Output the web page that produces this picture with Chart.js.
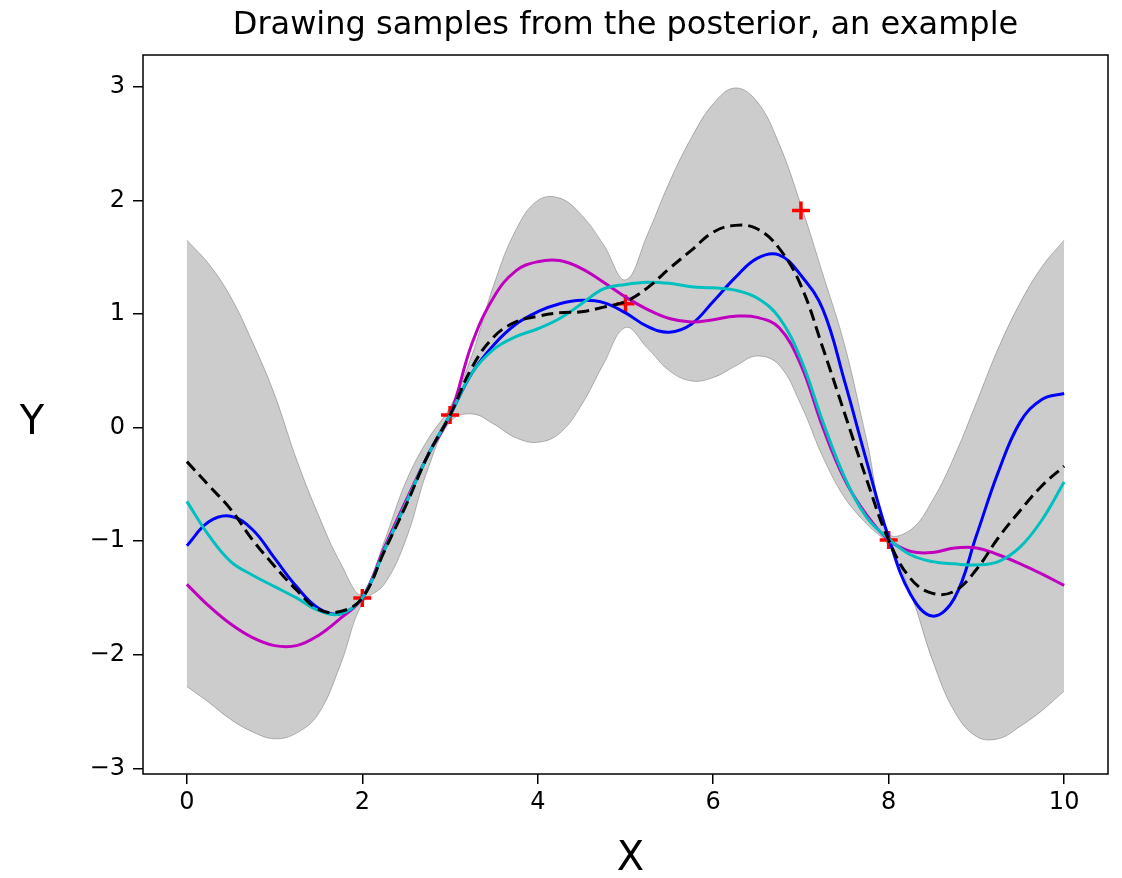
<!DOCTYPE html>
<html>
<head>
<meta charset="utf-8">
<script src="https://cdn.jsdelivr.net/npm/chart.js@4.4.0/dist/chart.umd.min.js"></script>
<style>
  html, body { margin: 0; padding: 0; background: #ffffff; }
  #wrap { width: 1122px; height: 878px; }
</style>
</head>
<body>
<div id="wrap"><canvas id="gpChart" width="1122" height="878"></canvas></div>
<script>
// Data ------------------------------------------------------------------------
var titleText = 'Drawing samples from the posterior, an example';
var xLabel = 'X';
var yLabel = 'Y';

var xs = [0, 0.25, 0.5, 0.75, 1, 1.25, 1.5, 1.75, 2, 2.25, 2.5, 2.75, 3, 3.25, 3.5, 3.75, 4, 4.25, 4.5, 4.75,
          5, 5.25, 5.5, 5.75, 6, 6.25, 6.5, 6.75, 7, 7.25, 7.5, 7.75, 8, 8.25, 8.5, 8.75, 9, 9.25, 9.5, 9.75, 10];

var bandUpper = [1.65, 1.44, 1.15, 0.75, 0.29, -0.28, -0.77, -1.19, -1.47, -1.00, -0.47, -0.10, 0.18, 0.64, 1.26, 1.74, 2.00, 2.02, 1.87, 1.61,
                 1.30, 1.70, 2.16, 2.55, 2.85, 2.99, 2.87, 2.50, 1.96, 1.35, 0.72, -0.11, -0.93, -0.90, -0.64, -0.25, 0.22, 0.70, 1.10, 1.42, 1.65];
var bandLower = [-2.28, -2.42, -2.57, -2.68, -2.74, -2.69, -2.52, -2.09, -1.55, -1.38, -0.98, -0.36, 0.05, 0.12, 0.03, -0.09, -0.13, -0.05, 0.20, 0.56,
                 0.88, 0.70, 0.50, 0.41, 0.44, 0.54, 0.63, 0.55, 0.20, -0.26, -0.62, -0.85, -1.04, -1.46, -2.05, -2.50, -2.72, -2.74, -2.63, -2.49, -2.32];

var meanY = [-0.30, -0.51, -0.72, -0.99, -1.22, -1.43, -1.60, -1.62, -1.50, -1.09, -0.68, -0.24, 0.11, 0.53, 0.80, 0.93, 0.98, 1.01, 1.02, 1.06,
             1.11, 1.23, 1.40, 1.56, 1.72, 1.78, 1.75, 1.58, 1.25, 0.70, 0.12, -0.46, -0.99, -1.33, -1.46, -1.44, -1.25, -0.97, -0.73, -0.51, -0.34];
var sampleBlue = [-1.04, -0.83, -0.78, -0.90, -1.15, -1.40, -1.59, -1.64, -1.50, -1.08, -0.66, -0.24, 0.11, 0.48, 0.73, 0.91, 1.02, 1.09, 1.12, 1.10,
                  1.01, 0.89, 0.84, 0.91, 1.11, 1.32, 1.49, 1.52, 1.34, 1.04, 0.40, -0.30, -0.97, -1.47, -1.66, -1.50, -0.95, -0.39, 0.05, 0.25, 0.30];
var sampleCyan = [-0.65, -0.95, -1.18, -1.30, -1.40, -1.50, -1.61, -1.64, -1.50, -1.08, -0.66, -0.24, 0.11, 0.48, 0.69, 0.80, 0.87, 0.96, 1.09, 1.22,
                  1.26, 1.28, 1.27, 1.24, 1.23, 1.21, 1.14, 0.97, 0.60, 0.05, -0.44, -0.79, -0.98, -1.12, -1.18, -1.20, -1.21, -1.18, -1.05, -0.81, -0.48];
var sampleMagenta = [-1.38, -1.57, -1.73, -1.85, -1.92, -1.92, -1.83, -1.68, -1.50, -1.06, -0.64, -0.24, 0.11, 0.74, 1.15, 1.38, 1.46, 1.47, 1.40, 1.28,
                     1.15, 1.04, 0.96, 0.93, 0.95, 0.98, 0.97, 0.88, 0.55, 0.00, -0.46, -0.77, -0.99, -1.09, -1.10, -1.06, -1.06, -1.12, -1.20, -1.29, -1.39];

var obsX = [2, 3, 5, 7, 8];
var obsY = [-1.50, 0.11, 1.09, 1.91, -0.99];

var xTicks = [0, 2, 4, 6, 8, 10];
var yTicks = [-3, -2, -1, 0, 1, 2, 3];

// Helpers ---------------------------------------------------------------------
function toPoints(xv, yv) {
    var pts = [];
    for (var i = 0; i < xv.length; i++) {
        pts.push({ x: xv[i], y: yv[i] });
    }
    return pts;
}

function minusLabel(v) {
    return v < 0 ? '\u2212' + Math.abs(v) : String(v);
}

var tickFont = { family: '"DejaVu Sans", sans-serif', size: 24 };
var curveTension = 0.4;

// Title, axis labels and box, drawn like matplotlib
const gpLabels = {
    id: 'gpLabels',
    afterDraw: function(chart) {
        var ctx = chart.ctx;
        var area = chart.chartArea;
        var cx = (area.left + area.right) / 2;
        ctx.save();
        ctx.strokeStyle = '#000000';
        ctx.lineWidth = 1.5;
        ctx.strokeRect(area.left, area.top, area.right - area.left, area.bottom - area.top);
        ctx.fillStyle = '#000000';
        ctx.textAlign = 'center';
        ctx.textBaseline = 'middle';
        ctx.font = '32px "DejaVu Sans"';
        ctx.fillText(titleText, cx, 26);
        ctx.font = '40px "DejaVu Sans"';
        ctx.fillText(xLabel, cx + 5, 860);
        ctx.fillText(yLabel, 32, 424);
        ctx.restore();
    }
};

// Chart -----------------------------------------------------------------------
const ctx_gp = document.getElementById('gpChart').getContext('2d');

const gpChart = new Chart(ctx_gp, {
    type: 'line',
    data: {
        datasets: [
            {
                label: 'upper',
                data: toPoints(xs, bandUpper),
                borderColor: 'rgba(0,0,0,0.25)',
                borderWidth: 1,
                backgroundColor: 'rgba(0,0,0,0.2)',
                fill: '+1',
                pointRadius: 0,
                tension: curveTension,
                order: 6
            },
            {
                label: 'lower',
                data: toPoints(xs, bandLower),
                borderColor: 'rgba(0,0,0,0.25)',
                borderWidth: 1,
                fill: false,
                pointRadius: 0,
                tension: curveTension,
                order: 5
            },
            {
                label: 'observed',
                data: toPoints(obsX, obsY),
                showLine: false,
                pointStyle: 'cross',
                pointRadius: 9,
                pointBorderWidth: 3.5,
                pointBorderColor: '#ff0000',
                borderColor: '#ff0000',
                order: 4
            },
            {
                label: 'sample 1',
                data: toPoints(xs, sampleBlue),
                borderColor: '#0000ff',
                borderWidth: 3,
                fill: false,
                pointRadius: 0,
                tension: curveTension,
                order: 3
            },
            {
                label: 'sample 2',
                data: toPoints(xs, sampleMagenta),
                borderColor: '#bf00bf',
                borderWidth: 3,
                fill: false,
                pointRadius: 0,
                tension: curveTension,
                order: 2
            },
            {
                label: 'sample 3',
                data: toPoints(xs, sampleCyan),
                borderColor: '#00bfbf',
                borderWidth: 3,
                fill: false,
                pointRadius: 0,
                tension: curveTension,
                order: 1
            },
            {
                label: 'mean',
                data: toPoints(xs, meanY),
                borderColor: '#000000',
                borderWidth: 3,
                borderDash: [12, 6],
                fill: false,
                pointRadius: 0,
                tension: curveTension,
                order: 0
            }
        ]
    },
    options: {
        responsive: false,
        animation: false,
        layout: {
            padding: { top: 55, right: 14, left: 0, bottom: 0 }
        },
        plugins: {
            legend: { display: false },
            tooltip: { enabled: false },
            title: { display: false }
        },
        scales: {
            x: {
                type: 'linear',
                min: -0.5,
                max: 10.5,
                afterBuildTicks: function(scale) {
                    scale.ticks = xTicks.map(function(v) { return { value: v }; });
                },
                afterFit: function(scale) {
                    scale.height = 104;
                },
                grid: {
                    drawOnChartArea: false,
                    drawTicks: true,
                    tickLength: 10,
                    color: '#000000',
                    lineWidth: 1.5
                },
                border: { display: false },
                ticks: {
                    color: '#000000',
                    font: tickFont,
                    padding: 4,
                    maxRotation: 0,
                    callback: function(v) { return minusLabel(v); }
                }
            },
            y: {
                type: 'linear',
                min: -3.05,
                max: 3.28,
                afterBuildTicks: function(scale) {
                    scale.ticks = yTicks.map(function(v) { return { value: v }; });
                },
                afterFit: function(scale) {
                    scale.width = 143;
                },
                grid: {
                    drawOnChartArea: false,
                    drawTicks: true,
                    tickLength: 10,
                    color: '#000000',
                    lineWidth: 1.5
                },
                border: { display: false },
                ticks: {
                    color: '#000000',
                    font: tickFont,
                    padding: 8,
                    callback: function(v) { return minusLabel(v); }
                }
            }
        }
    },
    plugins: [gpLabels]
});
</script>
</body>
</html>
